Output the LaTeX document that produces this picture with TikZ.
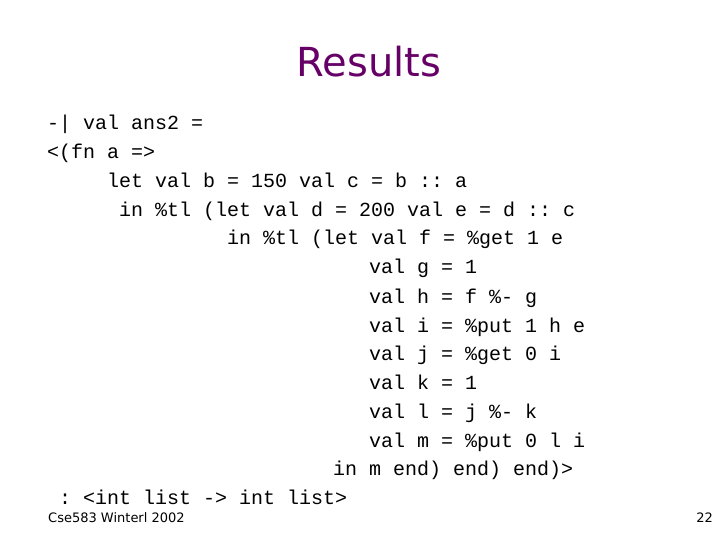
\documentclass[tikz,border=0pt]{standalone}
\usepackage{fontspec}
\setmonofont{Liberation Mono}
\setsansfont{DejaVu Sans}
\definecolor{ttl}{RGB}{102,0,102}
\begin{document}
\begin{tikzpicture}[x=1bp,y=-1bp,
  code/.style={anchor=base west,inner sep=0,font=\ttfamily\fontsize{20bp}{20bp}\selectfont}]
\useasboundingbox (0,0) rectangle (720,540);
\node[inner sep=0,text=ttl,font=\sffamily\fontsize{40bp}{40bp}\selectfont] (title) at (369,62) {Results};
\node[code] (l1) at (47,130) {-| val ans2 =};
\node[code] (l2) at (47,159) {<(fn a =>};
\node[code] (l3) at (107,188) {let val b = 150 val c = b :: a};
\node[code] (l4) at (119,217) {in \%tl (let val d = 200 val e = d :: c};
\node[code] (l5) at (227,245) {in \%tl (let val f = \%get 1 e};
\node[code] (l6) at (369,274) {val g = 1};
\node[code] (l7) at (369,303) {val h = f \%- g};
\node[code] (l8) at (369,332) {val i = \%put 1 h e};
\node[code] (l9) at (369,360) {val j = \%get 0 i};
\node[code] (l10) at (369,389) {val k = 1};
\node[code] (l11) at (369,418) {val l = j \%- k};
\node[code] (l12) at (369,447) {val m = \%put 0 l i};
\node[code] (l13) at (333,475) {in m end) end) end)>};
\node[code] (l14) at (59,504) {: <int list -> int list>};
\node[anchor=base west,inner sep=0,font=\sffamily\fontsize{13bp}{13bp}\selectfont] (foot) at (48,522) {Cse583 Winterl 2002};
\node[anchor=base east,inner sep=0,font=\sffamily\fontsize{13bp}{13bp}\selectfont] (pg) at (713,522) {22};
\end{tikzpicture}
\end{document}
